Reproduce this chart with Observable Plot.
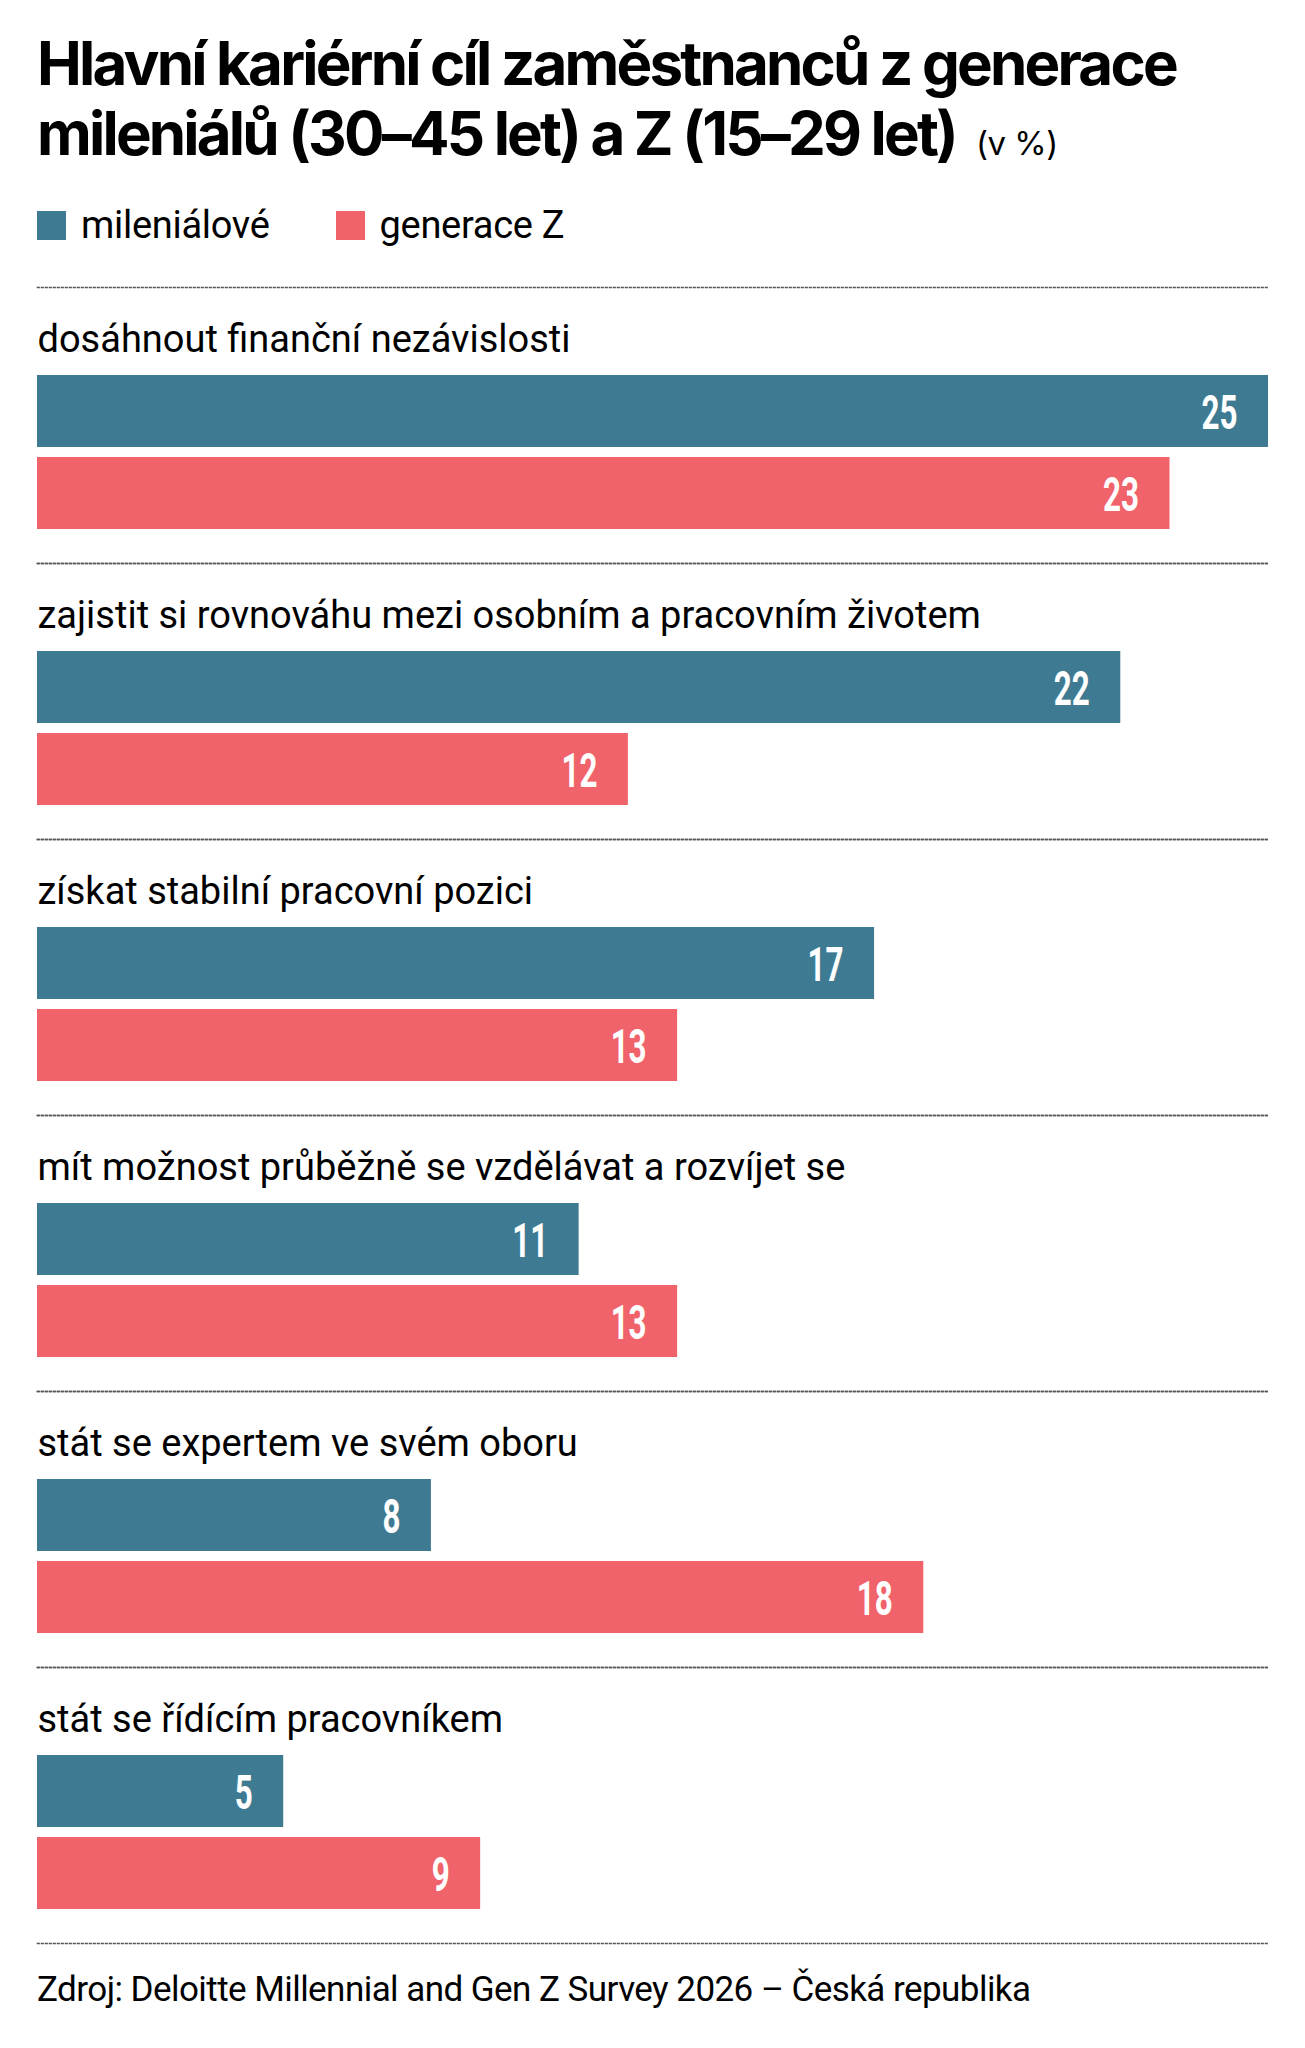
<!DOCTYPE html>
<html><head><meta charset="utf-8">
<script src="https://cdn.jsdelivr.net/npm/d3@7"></script>
<script src="https://cdn.jsdelivr.net/npm/@observablehq/plot@0.6"></script>
<style>
body{margin:0;background:#fff;width:1305px;height:2048px;position:relative;font-family:Roboto,sans-serif;color:#000}
#title{position:absolute;left:37px;top:28px;font:700 60px/70px Inter,Roboto,sans-serif;letter-spacing:-2.8px;white-space:nowrap}
#title .unit{font:400 33px Inter,Roboto,sans-serif;letter-spacing:-0.5px;margin-left:20px}
#legend{position:absolute;left:37px;top:205px;height:40px;display:flex;align-items:center;font:400 38px/40px Roboto,sans-serif;letter-spacing:-0.3px}
.item{display:flex;align-items:center;margin-right:66px}
.sw{width:29px;height:29px;margin-right:15px;flex:none}
#chart{position:absolute;left:0;top:285px}
#source{position:absolute;left:37px;top:1970px;font:400 35px/40px Roboto,sans-serif;letter-spacing:-0.55px;white-space:nowrap}
</style></head><body>
<div id="title">Hlavní kariérní cíl zaměstnanců z generace<br>mileniálů (30–45 let) a Z (15–29 let)<span class="unit">(v %)</span></div>
<div id="legend"></div>
<div id="chart"></div>
<div id="source">Zdroj: Deloitte Millennial and Gen Z Survey 2026 – Česká republika</div>
<script>
const categories = [
  "dosáhnout finanční nezávislosti",
  "zajistit si rovnováhu mezi osobním a pracovním životem",
  "získat stabilní pracovní pozici",
  "mít možnost průběžně se vzdělávat a rozvíjet se",
  "stát se expertem ve svém oboru",
  "stát se řídícím pracovníkem"
];
const seriesNames = ["mileniálové", "generace Z"];
const millennials = [25, 22, 17, 11, 8, 5];
const genZ = [23, 12, 13, 13, 18, 9];
const colors = ["#3e7b93", "#f0636a"];

const rows = categories.flatMap((c, i) => [
  {category: c, series: seriesNames[0], value: millennials[i]},
  {category: c, series: seriesNames[1], value: genZ[i]}
]);

// legend
const legend = document.getElementById("legend");
seriesNames.forEach((s, i) => {
  const it = document.createElement("div");
  it.className = "item";
  const sw = document.createElement("div");
  sw.className = "sw";
  sw.style.background = colors[i];
  const t = document.createElement("span");
  t.textContent = s;
  it.appendChild(sw); it.appendChild(t);
  legend.appendChild(it);
});

const lineStyle = {stroke: "#555", strokeWidth: 1.6, strokeDasharray: "1.6,2.4"};

const chart = Plot.plot({
  width: 1305,
  height: 1660,
  marginTop: 2,
  marginBottom: 2,
  marginLeft: 37,
  marginRight: 37,
  x: {domain: [0, 25], axis: null},
  y: {domain: seriesNames, axis: null, insetTop: 87, insetBottom: 33, paddingInner: 0.12, paddingOuter: 0},
  fy: {domain: categories, axis: null, padding: 0},
  color: {domain: seriesNames, range: colors},
  facet: {data: rows, y: "category", marginTop: 0, marginBottom: 0, marginLeft: 0, marginRight: 0},
  style: {fontFamily: "Roboto, sans-serif", background: "transparent"},
  marks: [
    Plot.frame({anchor: "top", ...lineStyle}),
    Plot.frame({anchor: "bottom", ...lineStyle}),
    Plot.barX(rows, {x: "value", y: "series", fill: "series"}),
    Plot.text(rows, {
      filter: d => d.series === seriesNames[0],
      text: "category",
      frameAnchor: "top-left",
      lineAnchor: "bottom",
      dy: 64,
      fontSize: 38,
      fill: "#000",
      fontFamily: "Roboto"
    }),
    Plot.text(rows, {
      x: "value",
      y: "series",
      text: d => String(d.value),
      textAnchor: "end",
      dx: -31,
      dy: 2,
      fill: "white",
      fontSize: 49,
      fontWeight: "bold",
      fontFamily: "Roboto"
    })
  ]
});
document.getElementById("chart").appendChild(chart);

// condense the value labels horizontally around their right anchor
chart.querySelectorAll('g[fill="white"] text').forEach(t => {
  const tr = t.getAttribute("transform");
  if (tr) {
    t.setAttribute("transform", tr + " scale(0.64,1)");
  } else {
    const x = +t.getAttribute("x") || 0;
    t.setAttribute("transform", `translate(${x},0) scale(0.64,1) translate(${-x},0)`);
  }
});
</script>
</body></html>
